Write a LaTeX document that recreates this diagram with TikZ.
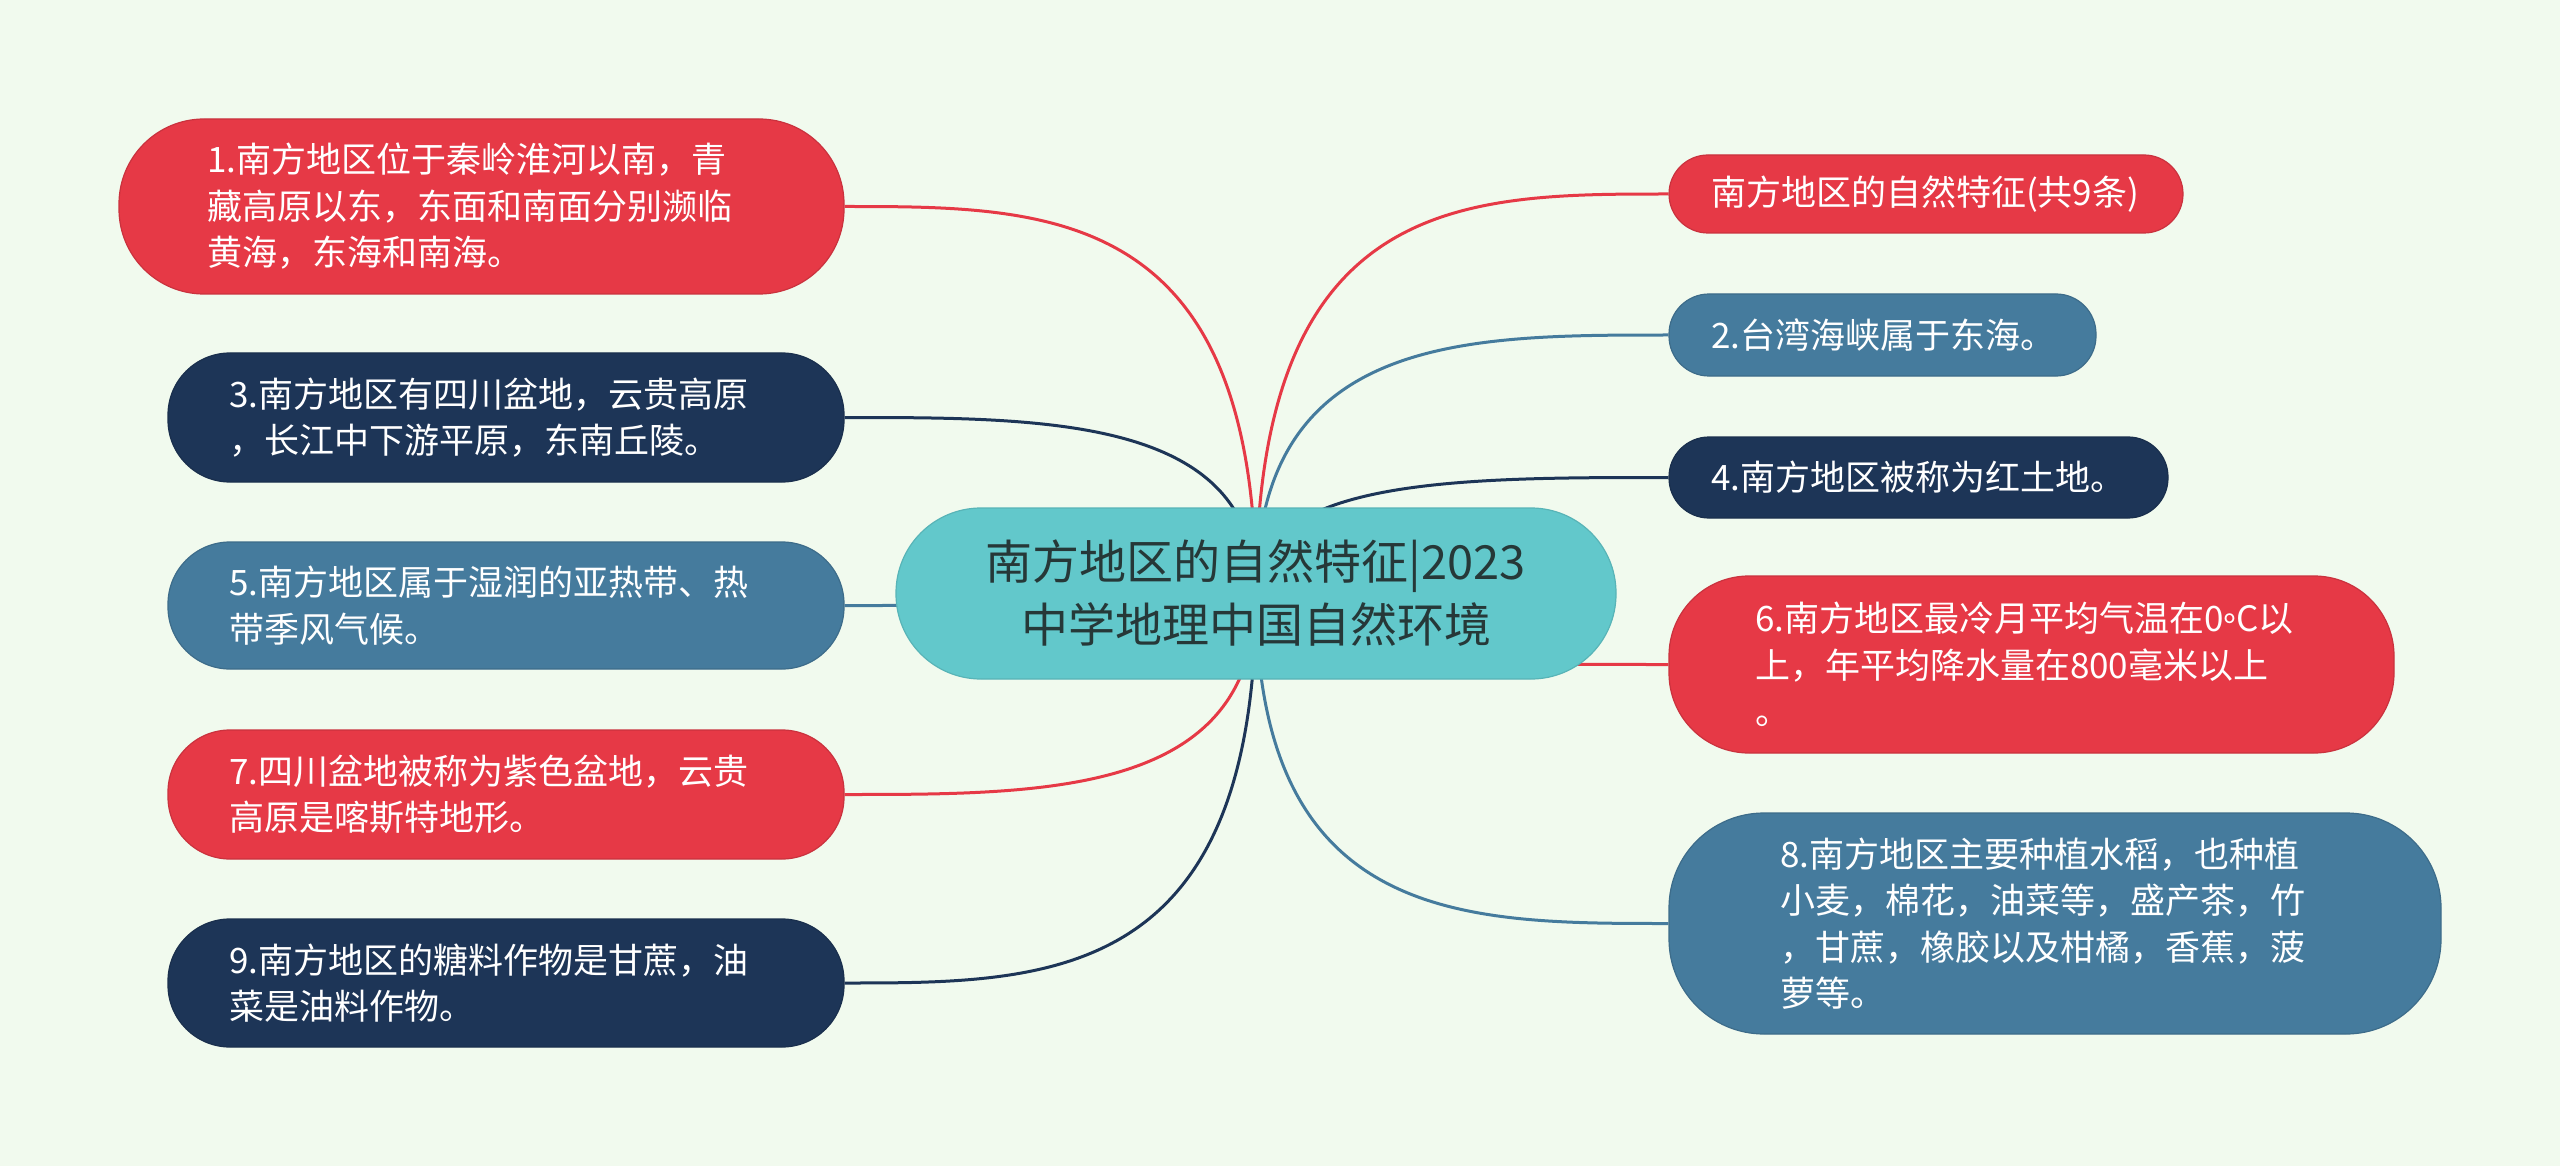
\documentclass[tikz,border=0pt]{standalone}
\usepackage{fontspec}
\setmainfont{Noto Sans CJK SC}
\usetikzlibrary{calc,backgrounds}
\definecolor{bg}{HTML}{F1FAEE}
\definecolor{cred}{HTML}{E63946}
\definecolor{cnavy}{HTML}{1D3557}
\definecolor{cblue}{HTML}{457B9D}
\definecolor{cteal}{HTML}{62C8CB}
\definecolor{ctext}{HTML}{263838}
\tikzset{
  box/.style={draw=#1!88!black, fill=#1, line width=1.2pt, text=white, align=left,
    inner sep=0pt, font=\fontsize{35}{46.5}\selectfont},
  conn/.style={draw=#1, line width=3pt},
  hub/.style={draw=cteal!90!black, fill=cteal, line width=1.2pt, text=ctext, align=center,
    inner sep=0pt, rounded corners=85pt, minimum width=720pt, minimum height=171pt,
    font=\fontsize{47}{63}\selectfont},
}
\begin{document}
\begin{tikzpicture}[x=1pt,y=-1pt]
\useasboundingbox (0,0) rectangle (2560,1166);
% central node
\node[hub] (c) at (1256,593.5) {南方地区的自然特征|2023\\中学地理中国自然环境};
% left nodes
\node[box=cred, rounded corners=85pt, minimum width=725pt, minimum height=175pt, text width=549pt]
  (n1) at (481.5,206.5) {1.南方地区位于秦岭淮河以南，青\\藏高原以东，东面和南面分别濒临\\黄海，东海和南海。};
\node[box=cnavy, rounded corners=62pt, minimum width=676pt, minimum height=129pt, text width=554pt]
  (n3) at (506,417.5) {3.南方地区有四川盆地，云贵高原\\，长江中下游平原，东南丘陵。};
\node[box=cblue, rounded corners=62pt, minimum width=676pt, minimum height=127pt, text width=554pt]
  (n5) at (506,605.5) {5.南方地区属于湿润的亚热带、热\\带季风气候。};
\node[box=cred, rounded corners=62pt, minimum width=676pt, minimum height=129pt, text width=554pt]
  (n7) at (506,794.5) {7.四川盆地被称为紫色盆地，云贵\\高原是喀斯特地形。};
\node[box=cnavy, rounded corners=62pt, minimum width=676pt, minimum height=128pt, text width=554pt]
  (n9) at (506,983) {9.南方地区的糖料作物是甘蔗，油\\菜是油料作物。};
% right nodes
\node[box=cred, rounded corners=39pt, minimum width=514pt, minimum height=78pt, text width=430pt]
  (r0) at (1926,194) {南方地区的自然特征(共9条)};
\node[box=cblue, rounded corners=40pt, minimum width=427pt, minimum height=82pt, text width=343pt]
  (n2) at (1882.5,335) {2.台湾海峡属于东海。};
\node[box=cnavy, rounded corners=40pt, minimum width=499pt, minimum height=81pt, text width=415pt]
  (n4) at (1918.5,477.5) {4.南方地区被称为红土地。};
\node[box=cred, rounded corners=80pt, minimum width=725pt, minimum height=177pt, text width=553pt]
  (n6) at (2031.5,664.5) {6.南方地区最冷月平均气温在0\raisebox{-0.25em}{°}C以\\上，年平均降水量在800毫米以上\\。};
\node[box=cblue, rounded corners=95pt, minimum width=772pt, minimum height=221pt, text width=550pt]
  (n8) at (2055,923.5) {8.南方地区主要种植水稻，也种植\\小麦，棉花，油菜等，盛产茶，竹\\，甘蔗，橡胶以及柑橘，香蕉，菠\\萝等。};
\begin{pgfonlayer}{background}
\fill[bg] (0,0) rectangle (2560,1166);
\foreach \n/\col in {n1/cred,n3/cnavy,n5/cblue,n7/cred,n9/cnavy}{
  \draw[conn=\col] (c.center) .. controls (c.center |- \n.east) and ($(c.center |- \n.east)!0.5!(\n.east)$) .. (\n.east);
}
\foreach \n/\col in {r0/cred,n2/cblue,n4/cnavy,n6/cred,n8/cblue}{
  \draw[conn=\col] (c.center) .. controls (c.center |- \n.west) and ($(c.center |- \n.west)!0.5!(\n.west)$) .. (\n.west);
}
\end{pgfonlayer}
\end{tikzpicture}
\end{document}
